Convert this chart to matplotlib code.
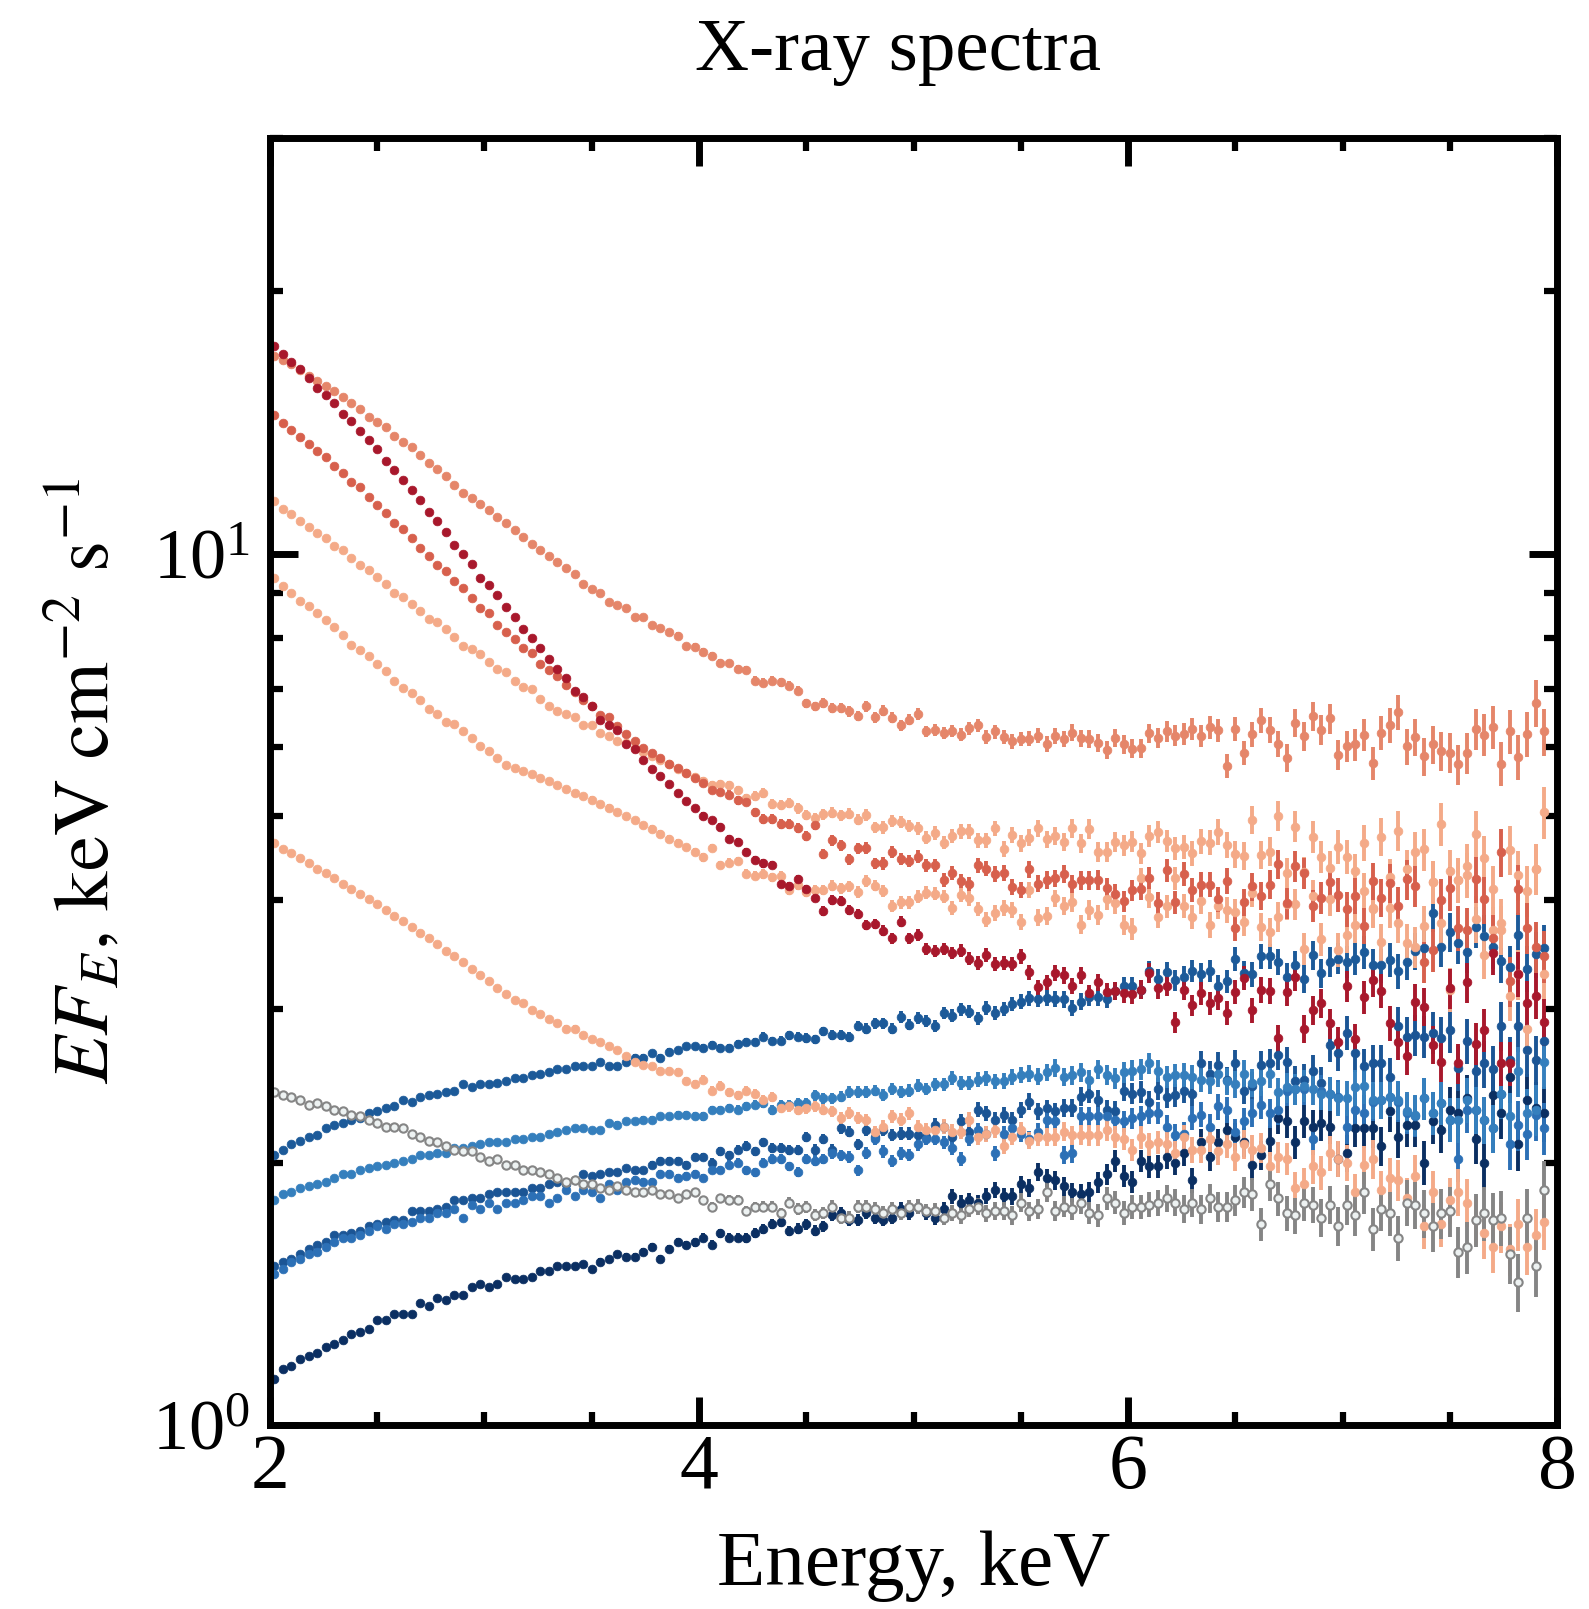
import numpy as np
import matplotlib
matplotlib.use("Agg")
import matplotlib.pyplot as plt
from matplotlib.ticker import MultipleLocator, LogLocator, NullFormatter

plt.rcParams["font.family"] = "serif"
plt.rcParams["font.serif"] = ["Liberation Serif", "DejaVu Serif"]
plt.rcParams["mathtext.fontset"] = "stix"

# energy bins (keV), 0.04 keV wide
ENERGY = np.round(np.arange(2.02, 7.95, 0.04), 2)

# E*F_E for each spectrum
EF_A = [17.3, 16.96, 16.6, 16.27, 15.9, 15.5, 15.2, 14.88, 14.48, 14.2, 13.81, 13.49, 13.19, 12.78, 12.46,
        12.15, 11.82, 11.52, 11.15, 10.89, 10.59, 10.22, 9.98, 9.73, 9.38, 9.21, 8.96, 8.69, 8.45, 8.19,
        8.00, 7.79, 7.57, 7.38, 7.20, 6.96, 6.85, 6.68, 6.45, 6.36, 6.27, 6.05, 5.96, 5.80, 5.66,
        5.55, 5.44, 5.31, 5.20, 5.10,
        5.00, 4.94, 4.86, 4.71, 4.67, 4.55, 4.45, 4.41, 4.39, 4.18, 4.15, 4.23, 4.12, 4.03, 3.89, 4.00,
        3.99, 3.90, 3.86, 3.75, 3.76, 3.69, 3.62, 3.78, 3.62, 3.65, 3.52, 3.50, 3.52, 3.48, 3.50, 3.43,
        3.39, 3.46, 3.38, 3.39, 3.38, 3.45, 3.31, 3.18, 3.22, 3.30, 3.28, 3.19, 3.28, 3.13, 3.22, 3.14,
        3.15, 3.13, 3.12, 3.16, 3.30,
        3.17, 3.19, 2.90, 3.16, 3.03, 3.13, 3.05, 3.09, 2.97, 3.14, 3.26, 2.99, 3.16, 3.15, 2.78, 3.14,
        3.27, 2.85, 2.99, 3.05, 2.89, 2.75, 3.19, 2.77, 3.10, 3.24, 3.15, 2.89, 2.75, 2.65, 3.06, 3.02,
        2.73, 2.61, 3.17, 2.60, 3.22, 2.74, 2.84, 3.48, 2.60, 2.60, 3.29, 3.05, 3.11, 2.90]

EF_B = [16.88, 16.68, 16.52, 16.23, 16.01, 15.76, 15.57, 15.37, 15.11, 14.90, 14.64, 14.36, 14.16, 13.96,
        13.65, 13.44, 13.26, 12.98, 12.72, 12.50, 12.27, 11.99, 11.75, 11.59, 11.41, 11.22, 11.02, 10.84,
        10.64, 10.44, 10.27, 10.09, 9.93, 9.79, 9.63, 9.47, 9.24, 9.11, 9.02, 8.80, 8.74, 8.65, 8.46, 8.46,
        8.27, 8.21, 8.13, 8.05, 7.83, 7.82, 7.71, 7.63,
        7.49, 7.48, 7.37, 7.36, 7.15, 7.11, 7.15, 7.12, 7.05, 6.96, 6.73, 6.68, 6.74, 6.65, 6.65, 6.59,
        6.51, 6.68, 6.49, 6.60, 6.48, 6.35, 6.45, 6.55, 6.25, 6.27, 6.23, 6.26, 6.20, 6.30, 6.35, 6.16,
        6.25, 6.16, 6.09, 6.13, 6.13, 6.18, 6.05, 6.17, 6.13, 6.23, 6.14, 6.13, 6.06, 5.95, 6.14, 6.04,
        5.97, 5.98, 6.22,
        6.15, 6.25, 6.18, 6.21, 6.29, 6.18, 6.32, 6.27, 5.71, 6.29, 5.91, 6.21, 6.44, 6.28, 6.05, 5.83,
        6.39, 6.17, 6.51, 6.28, 6.47, 5.88, 6.01, 6.04, 6.20, 5.75, 6.23, 6.36, 6.58, 6.01, 6.16, 5.85,
        6.04, 5.93, 5.91, 5.73, 5.91, 6.29, 6.20, 6.32, 5.74, 6.25, 5.84, 6.21, 6.74, 6.25]

EF_C = [14.41, 14.11, 13.85, 13.61, 13.35, 13.10, 12.90, 12.62, 12.38, 12.08, 11.93, 11.62, 11.37, 11.13,
        10.85, 10.66, 10.41, 10.14, 9.95, 9.70, 9.56, 9.31, 9.12, 8.90, 8.66, 8.54, 8.28, 8.12, 7.97, 7.79,
        7.70, 7.46, 7.36, 7.23, 7.07, 6.93, 6.79, 6.68, 6.52, 6.49, 6.34, 6.21, 6.09, 5.98, 5.90, 5.82,
        5.74, 5.67, 5.60, 5.53,
        5.46, 5.36, 5.33, 5.29, 5.21, 5.19, 5.05, 4.96, 4.96, 4.89, 4.90, 4.84, 4.74, 4.88, 4.52, 4.69,
        4.63, 4.46, 4.59, 4.59, 4.41, 4.41, 4.55, 4.46, 4.44, 4.49, 4.39, 4.39, 4.22, 4.30, 4.21, 4.18,
        4.39, 4.35, 4.29, 4.30, 4.14, 4.11, 4.34, 4.18, 4.22, 4.24, 4.29, 4.18, 4.22, 4.22, 4.22, 4.13,
        4.07, 3.99, 4.11, 4.12, 4.24,
        3.97, 4.33, 3.98, 4.29, 4.11, 4.17, 4.17, 4.01, 4.21, 3.72, 3.98, 4.15, 4.05, 4.17, 4.40, 3.97,
        4.38, 4.30, 3.94, 4.03, 4.20, 4.06, 3.91, 4.05, 3.74, 4.21, 4.03, 4.19, 3.94, 4.23, 4.16, 3.40,
        3.51, 4.00, 4.13, 3.72, 3.70, 4.23, 4.01, 3.62, 4.54, 3.23, 4.12, 3.72, 3.54, 3.45]

EF_D = [11.49, 11.25, 11.11, 10.91, 10.72, 10.56, 10.42, 10.21, 10.09, 9.88, 9.71, 9.57, 9.40, 9.22, 9.01,
        8.91, 8.76, 8.60, 8.41, 8.35, 8.20, 8.02, 7.83, 7.77, 7.66, 7.50, 7.37, 7.31, 7.15, 7.03, 7.00,
        6.81, 6.69, 6.60, 6.54, 6.49, 6.35, 6.36, 6.22, 6.17, 6.09, 6.06,
        5.98, 5.92, 5.86, 5.80, 5.73, 5.66, 5.60, 5.54,
        5.48, 5.43, 5.44, 5.42, 5.35, 5.24, 5.27, 5.31, 5.16, 5.15, 5.17, 5.10, 5.01, 4.97, 5.02, 5.04,
        5.01, 5.03, 4.95, 5.01, 4.85, 4.85, 4.93, 4.92, 4.87, 4.84, 4.72, 4.78, 4.66, 4.74, 4.80, 4.80,
        4.69, 4.69, 4.84, 4.58, 4.76, 4.65, 4.72, 4.84, 4.70, 4.74, 4.67, 4.84, 4.65, 4.83, 4.55, 4.55,
        4.67, 4.63, 4.67, 4.53, 4.74,
        4.79, 4.68, 4.59, 4.61, 4.53, 4.68, 4.66, 4.79, 4.63, 4.52, 4.50, 4.95, 4.51, 4.55, 5.00, 4.30,
        4.86, 4.31, 4.73, 4.49, 4.36, 4.61, 4.49, 4.32, 4.66, 3.92, 4.73, 4.25, 4.81, 4.34, 4.55, 4.58,
        4.20, 4.90, 4.32, 4.22, 4.38, 4.77, 4.47, 3.70, 3.70, 4.57, 4.28, 4.10, 4.35, 5.05]

EF_E = [9.38, 9.17, 9.01, 8.82, 8.70, 8.54, 8.38, 8.24, 8.07, 7.86, 7.76, 7.62, 7.46, 7.33, 7.14, 7.01,
        6.92, 6.80, 6.63, 6.54, 6.41, 6.37, 6.25, 6.14, 6.02, 5.93, 5.83, 5.72, 5.68,
        5.63, 5.58, 5.52, 5.48, 5.43, 5.37, 5.31, 5.27, 5.22, 5.16, 5.11, 5.05, 5.00, 4.94, 4.88, 4.83,
        4.77, 4.71, 4.66, 4.60, 4.54,
        4.48, 4.59, 4.39, 4.42, 4.44, 4.29, 4.27, 4.29, 4.25, 4.27, 4.11, 4.17, 4.09, 4.11, 4.11, 4.16,
        4.13, 4.15, 4.09, 4.21, 4.16, 4.10, 3.94, 3.98, 3.98, 4.04, 4.08, 4.07, 4.04, 3.92, 4.06, 4.02,
        3.91, 3.80, 3.87, 3.92, 3.90, 3.78, 4.11, 3.82, 3.84, 4.02, 3.94,
        3.98, 3.75, 3.90, 3.85,
        4.01, 3.97, 3.75, 3.71, 4.24, 4.04, 3.83, 3.94, 4.24, 3.94, 3.83, 3.99, 3.75, 3.94, 3.90, 3.88,
        3.78, 4.08, 3.73, 3.68, 3.83, 3.96, 3.96, 3.52, 4.05, 3.61, 4.01, 3.51, 3.65, 3.75, 4.10, 3.91,
        3.58, 3.92, 3.77, 3.57, 3.54, 3.74, 4.20, 3.77, 3.16, 4.22, 4.28, 3.81, 3.46, 4.12, 3.77, 3.11,
        3.29, 2.85, 4.35, 3.29]

EF_F = [4.65, 4.58, 4.53, 4.47, 4.41, 4.35, 4.30, 4.24, 4.18, 4.12, 4.07, 4.01, 3.96, 3.90, 3.84, 3.79,
        3.73, 3.67, 3.62, 3.56, 3.50, 3.45, 3.40, 3.34, 3.28, 3.23, 3.17, 3.12,
        3.07, 3.05, 2.99, 2.96, 2.92, 2.89, 2.85, 2.85, 2.80, 2.77, 2.75, 2.72, 2.69, 2.65, 2.61, 2.59,
        2.58, 2.55, 2.55, 2.54, 2.48, 2.46, 2.49, 2.42,
        2.45, 2.41, 2.39, 2.42, 2.40, 2.36, 2.38, 2.31, 2.32, 2.30, 2.31, 2.32, 2.30, 2.29, 2.25, 2.28,
        2.25, 2.24, 2.17, 2.20, 2.26, 2.24, 2.28, 2.20, 2.18, 2.18, 2.20, 2.17, 2.17, 2.24, 2.14, 2.16,
        2.18, 2.09, 2.14, 2.18, 2.12, 2.14, 2.14, 2.14, 2.17, 2.15, 2.15, 2.15, 2.15, 2.18, 2.14, 2.13,
        2.07, 2.14, 2.10,
        2.11, 2.10, 2.05, 2.14, 2.07, 2.07, 2.13, 2.06, 2.10, 2.03, 2.10, 2.07, 2.08, 1.98, 2.03, 2.02,
        1.87, 1.89, 1.98, 1.95, 2.05, 2.02, 2.00, 1.85, 1.99, 2.02, 1.86, 1.92, 1.91, 1.82, 1.93, 1.69,
        1.85, 1.70, 1.81, 1.85, 1.80, 1.72, 1.66, 1.60, 1.69, 1.59, 1.70, 1.60, 1.65, 1.71]

EF_GRAY = [2.41, 2.39, 2.38, 2.36, 2.33, 2.34, 2.32, 2.30, 2.29, 2.27, 2.26, 2.24, 2.22, 2.20, 2.20, 2.19,
           2.16, 2.14, 2.12, 2.11, 2.09, 2.07, 2.06, 2.06, 2.03, 2.01, 2.02, 1.99, 1.99, 1.96, 1.96, 1.95,
           1.94, 1.92, 1.90, 1.91, 1.89, 1.89, 1.87, 1.86, 1.88, 1.86, 1.85, 1.85, 1.86, 1.84, 1.84, 1.82,
           1.84, 1.85, 1.81, 1.78,
           1.82, 1.81, 1.81, 1.76, 1.78, 1.78, 1.78, 1.75, 1.80, 1.77, 1.78, 1.74, 1.75, 1.78, 1.73, 1.73,
           1.78, 1.78, 1.77, 1.75, 1.77, 1.75, 1.78, 1.78, 1.76, 1.76, 1.73, 1.75, 1.74, 1.77, 1.78, 1.75,
           1.76, 1.76, 1.74, 1.80, 1.76, 1.77, 1.85, 1.76, 1.78, 1.77, 1.80, 1.75, 1.74, 1.82, 1.80, 1.75,
           1.78, 1.78, 1.79,
           1.80, 1.82, 1.80, 1.77, 1.80, 1.77, 1.82, 1.78, 1.78, 1.81, 1.85, 1.84, 1.70, 1.89, 1.82, 1.75,
           1.74, 1.80, 1.79, 1.73, 1.79, 1.69, 1.79, 1.74, 1.85, 1.68, 1.77, 1.75, 1.64, 1.80, 1.79, 1.75,
           1.69, 1.75, 1.76, 1.58, 1.60, 1.72, 1.75, 1.72, 1.73, 1.57, 1.46, 1.73, 1.52, 1.86]

EF_H = [2.04, 2.07, 2.10, 2.12, 2.14, 2.15, 2.19, 2.21, 2.22, 2.24, 2.25, 2.28, 2.29, 2.31, 2.32, 2.36,
        2.35, 2.38, 2.39, 2.40, 2.41, 2.42, 2.46, 2.44, 2.46, 2.46, 2.47, 2.48, 2.50, 2.50, 2.52, 2.53,
        2.54, 2.56, 2.56, 2.58, 2.58, 2.58, 2.61, 2.58, 2.58, 2.61, 2.64, 2.64, 2.67, 2.64, 2.68, 2.69,
        2.72, 2.72, 2.71, 2.73,
        2.71, 2.71, 2.74, 2.75, 2.75, 2.79, 2.76, 2.76, 2.80, 2.79, 2.78, 2.77, 2.83, 2.80, 2.80, 2.79,
        2.87, 2.85, 2.89, 2.89, 2.85, 2.94, 2.88, 2.93, 2.91, 2.87, 2.97, 2.95, 3.00, 2.98, 2.93, 3.01,
        2.97, 3.00, 3.04, 3.06, 3.09, 3.08, 3.09, 3.08, 3.08, 3.01, 3.06, 3.10, 3.10, 3.08, 3.15, 3.19,
        3.19, 3.16, 3.32,
        3.25, 3.31, 3.24, 3.27, 3.32, 3.29, 3.32, 3.19, 3.23, 3.43, 3.30, 3.29, 3.45, 3.45, 3.40, 3.27,
        3.37, 3.25, 3.46, 3.30, 3.40, 3.43, 3.40, 3.43, 3.49, 3.37, 3.37, 3.42, 3.32, 3.40, 3.50, 3.53,
        3.87, 3.54, 3.68, 3.57, 3.49, 3.73, 3.64, 3.54, 3.41, 3.35, 3.65, 3.34, 3.47, 3.53]

EF_I = [1.81, 1.84, 1.85, 1.87, 1.88, 1.89, 1.90, 1.92, 1.94, 1.94, 1.96, 1.97, 1.98, 1.99, 2.00, 2.01,
        2.02, 2.04, 2.04, 2.05, 2.05, 2.08, 2.08, 2.09, 2.10, 2.11, 2.11, 2.11, 2.13, 2.13, 2.14, 2.14,
        2.16, 2.17, 2.18, 2.19, 2.19, 2.18, 2.18, 2.22, 2.21, 2.23, 2.23, 2.24, 2.24, 2.26, 2.26, 2.27,
        2.27, 2.26, 2.26, 2.30,
        2.30, 2.31, 2.30, 2.32, 2.33, 2.34, 2.30, 2.33, 2.33, 2.34, 2.34, 2.39, 2.37, 2.37, 2.38, 2.41,
        2.41, 2.41, 2.42, 2.39, 2.43, 2.41, 2.42, 2.45, 2.43, 2.46, 2.46, 2.50, 2.47, 2.47, 2.49, 2.50,
        2.48, 2.48, 2.51, 2.52, 2.53, 2.51, 2.54, 2.57, 2.51, 2.52, 2.54, 2.49, 2.56, 2.52, 2.50, 2.54,
        2.55, 2.56, 2.60,
        2.55, 2.51, 2.52, 2.52, 2.51, 2.49, 2.48, 2.53, 2.48, 2.46, 2.53, 2.47, 2.48, 2.53, 2.41, 2.44,
        2.43, 2.45, 2.43, 2.40, 2.40, 2.37, 2.37, 2.44, 2.45, 2.36, 2.36, 2.38, 2.36, 2.29, 2.27, 2.37,
        2.28, 2.34, 2.24, 2.24, 2.36, 2.30, 2.24, 2.19, 2.40, 2.26, 2.55, 2.28, 2.30, 2.61]

EF_J = [1.52, 1.54, 1.55, 1.57, 1.59, 1.61, 1.62, 1.65, 1.65, 1.66, 1.67, 1.69, 1.70, 1.71, 1.72, 1.72,
        1.76, 1.76, 1.76, 1.77, 1.78, 1.81, 1.81, 1.82, 1.82, 1.84, 1.85, 1.85, 1.85, 1.85, 1.87, 1.87,
        1.89, 1.90, 1.89, 1.91, 1.94, 1.93, 1.94, 1.95, 1.95, 1.97, 1.96, 1.96, 1.99, 2.01, 2.01, 2.01,
        1.99, 2.03, 2.03, 2.00,
        2.06, 2.04, 2.07, 2.09, 2.06, 2.11, 2.08, 2.08, 2.07, 2.07, 2.14, 2.07, 2.13, 2.07, 2.19, 2.17,
        2.10, 2.18, 2.14, 2.18, 2.15, 2.16, 2.16, 2.15, 2.14, 2.21, 2.20, 2.14, 2.23, 2.17, 2.30, 2.28,
        2.24, 2.27, 2.24, 2.30, 2.35, 2.29, 2.31, 2.29, 2.31, 2.31, 2.38, 2.40, 2.36, 2.30, 2.29, 2.42,
        2.40, 2.41, 2.35,
        2.43, 2.38, 2.39, 2.42, 2.40, 2.60, 2.53, 2.59, 2.49, 2.60, 2.42, 2.45, 2.59, 2.60, 2.66, 2.61,
        2.48, 2.49, 2.55, 2.47, 2.73, 2.67, 2.82, 2.67, 2.58, 2.60, 2.60, 2.51, 2.87, 2.79, 2.80, 2.79,
        2.82, 2.78, 2.84, 2.57, 2.76, 2.55, 2.60, 2.56, 2.87, 2.62, 2.87, 2.69, 2.62, 2.76]

EF_K = [1.49, 1.51, 1.54, 1.55, 1.57, 1.58, 1.60, 1.62, 1.64, 1.64, 1.65, 1.67, 1.69, 1.68, 1.70, 1.70,
        1.71, 1.73, 1.73, 1.75, 1.75, 1.77, 1.73, 1.79, 1.77, 1.80, 1.77, 1.80, 1.80, 1.81, 1.83, 1.83,
        1.80, 1.82, 1.86, 1.83, 1.86, 1.85, 1.82, 1.89, 1.86, 1.90, 1.91, 1.90, 1.90, 1.94, 1.94, 1.92,
        1.93, 1.94, 1.92, 1.96,
        1.96, 1.99, 2.00, 1.96, 1.95, 2.00, 2.02, 2.02, 1.98, 1.95, 2.02, 2.01, 2.02, 2.05, 2.04, 2.03,
        1.96, 2.05, 2.13, 2.06, 2.01, 2.05, 2.04, 2.10, 2.13, 2.13, 2.11, 2.08, 2.02, 2.13, 2.18, 2.16,
        2.05, 2.16, 2.19, 2.16, 2.13, 2.17, 2.24, 2.23, 2.04, 2.05, 2.26, 2.26, 2.26, 2.26, 2.24, 2.23,
        2.25, 2.26, 2.28,
        2.28, 2.20, 2.15, 2.16, 2.25, 2.27, 2.20, 2.32, 2.30, 2.17, 2.23, 2.28, 2.33, 2.28, 2.30, 2.42,
        2.43, 2.43, 2.13, 2.42, 2.40, 2.38, 2.20, 2.30, 2.28, 2.35, 2.36, 2.38, 2.35, 2.28, 2.26, 2.37,
        2.28, 2.34, 2.24, 2.02, 2.30, 2.30, 2.24, 2.19, 2.40, 2.10, 2.21, 2.16, 2.27, 2.19]

EF_L = [1.13, 1.16, 1.17, 1.19, 1.20, 1.21, 1.23, 1.24, 1.25, 1.27, 1.28, 1.29, 1.32, 1.32, 1.34, 1.34,
        1.34, 1.38, 1.37, 1.40, 1.39, 1.41, 1.41, 1.44, 1.45, 1.44, 1.45, 1.48, 1.47, 1.47, 1.48, 1.50,
        1.50, 1.52, 1.52, 1.52, 1.53, 1.51, 1.54, 1.55, 1.57, 1.56, 1.56, 1.58, 1.60, 1.55, 1.59, 1.62,
        1.61, 1.62, 1.64, 1.61,
        1.66, 1.64, 1.64, 1.64, 1.66, 1.68, 1.70, 1.71, 1.67, 1.68, 1.70, 1.67, 1.69, 1.74, 1.75, 1.72,
        1.72, 1.75, 1.73, 1.72, 1.73, 1.77, 1.75, 1.78, 1.75, 1.73, 1.77, 1.83, 1.80, 1.81, 1.80, 1.83,
        1.86, 1.83, 1.83, 1.89, 1.87, 1.95, 1.92, 1.91, 1.88, 1.85, 1.84, 1.85, 1.90, 1.94, 2.01, 1.93,
        1.90, 2.01, 1.98,
        1.98, 2.03, 2.00, 2.05, 1.91, 2.11, 2.03, 2.11, 2.18, 2.14, 2.11, 1.99, 2.04, 2.12, 2.25, 2.23,
        2.11, 2.23, 2.20, 2.22, 2.20, 2.02, 2.05, 2.19, 2.19, 2.19, 2.09, 2.29, 2.14, 2.21, 2.21, 2.00,
        2.23, 2.18, 2.30, 2.28, 2.37, 2.13, 2.00, 2.39, 2.28, 2.51, 2.10, 2.36, 2.31, 2.28]

# typical fractional 1-sigma error per energy bin
REL_ERR = [0.004] * 10 + [
    0.0045, 0.0045, 0.0045, 0.005, 0.005, 0.005, 0.005, 0.0055, 0.0055, 0.0055, 0.006, 0.006, 0.006,
    0.006, 0.0065,
    0.0065, 0.0065, 0.007, 0.007, 0.007, 0.0075, 0.0075, 0.0075, 0.008, 0.008, 0.008, 0.0085, 0.0085,
    0.0085, 0.009, 0.009, 0.009, 0.0095, 0.0095, 0.0095, 0.010, 0.010, 0.010, 0.0105, 0.0105,
    0.011, 0.011, 0.011, 0.0115, 0.0115, 0.012, 0.012, 0.0125, 0.0125, 0.013, 0.013, 0.0135, 0.0135,
    0.014, 0.014, 0.0145, 0.0145, 0.015, 0.015, 0.0155, 0.0155, 0.016, 0.016, 0.0165, 0.0165,
    0.017, 0.017, 0.0175, 0.018, 0.0185, 0.019, 0.019, 0.0195, 0.020, 0.0205, 0.021, 0.021, 0.0215,
    0.022, 0.0225, 0.023, 0.0235, 0.024, 0.0245, 0.025, 0.0255, 0.026, 0.0265, 0.027, 0.0275,
    0.028, 0.0285, 0.029, 0.0295, 0.030, 0.031, 0.0315, 0.032, 0.033, 0.0335, 0.034, 0.035, 0.0355,
    0.036, 0.037, 0.0375, 0.038, 0.039, 0.040, 0.041, 0.0415, 0.042, 0.043, 0.044, 0.045,
    0.046, 0.047, 0.048, 0.049, 0.050, 0.051, 0.052, 0.053, 0.054, 0.055, 0.056, 0.057, 0.058, 0.059,
    0.060, 0.061, 0.062, 0.063, 0.064, 0.065, 0.066, 0.067, 0.068, 0.069]

# (values, colour, error scale), drawn in this order
SERIES = [
    (EF_L, "#0b2f62", 1.05),
    (EF_J, "#1b5595", 1.0),
    (EF_K, "#2c70b6", 1.0),
    (EF_I, "#357fbd", 1.0),
    (EF_H, "#1c5a99", 0.9),
    (EF_F, "#f4aa88", 1.05),
    (EF_E, "#f4aa88", 1.0),
    (EF_D, "#f4aa88", 1.0),
    (EF_C, "#d7604d", 1.0),
    (EF_B, "#e5866a", 0.9),
    (EF_A, "#a8182c", 0.9),
]


def main():
    fig = plt.figure(figsize=(15.89, 16.09), dpi=100)
    ax = fig.add_axes([0.1699, 0.1144, 0.8100, 0.7999])

    rel = np.array(REL_ERR)
    for vals, color, scale in SERIES:
        v = np.array(vals)
        ax.errorbar(ENERGY, v, yerr=v * rel * scale, fmt="o", ms=6.3, color=color,
                    mec=color, mew=0.5, elinewidth=2.8, capsize=0)

    g = np.array(EF_GRAY)
    ax.errorbar(ENERGY, g, yerr=g * rel * 1.15, fmt="o", ms=6.0, mfc="#edf2f2", mec="#858585",
                mew=1.5, ecolor="#858585", elinewidth=2.8, capsize=0)

    ax.set_yscale("log")
    ax.set_xlim(2, 8)
    ax.set_ylim(1, 30)
    ax.xaxis.set_major_locator(MultipleLocator(2))
    ax.xaxis.set_minor_locator(MultipleLocator(0.5))
    ax.yaxis.set_major_locator(LogLocator(base=10, numticks=5))
    ax.yaxis.set_minor_locator(LogLocator(base=10, subs=np.arange(2, 10), numticks=20))
    ax.yaxis.set_minor_formatter(NullFormatter())

    for s in ax.spines.values():
        s.set_linewidth(5)
    ax.tick_params(which="both", direction="in", top=True, right=True)
    ax.tick_params(which="major", length=20, width=5, labelsize=56, pad=6)
    ax.tick_params(which="minor", length=9.5, width=4.5)
    ax.tick_params(axis="y", which="major", labelsize=52, pad=14)

    ax.set_xlabel("Energy, keV", fontsize=57)
    ax.xaxis.set_label_coords(0.5, -0.082)
    ax.set_ylabel(r"$EF_E$, keV cm$^{-2}$ s$^{-1}$", fontsize=57, family="STIXGeneral")
    ax.yaxis.set_label_coords(-0.112, 0.5)

    fig.text(898 / 1589, 1 - 70 / 1609, "X-ray spectra", fontsize=54, ha="center", va="baseline")

    fig.savefig("out.png", dpi=100)


if __name__ == "__main__":
    main()
